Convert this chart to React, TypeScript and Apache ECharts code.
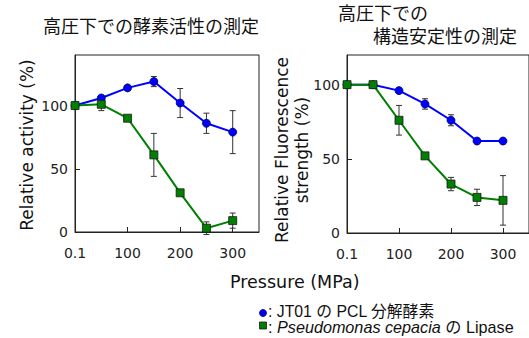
import React, { useEffect, useRef } from "react";
import * as echarts from "echarts";

const pressures = [0.1, 50, 100, 150, 200, 250, 300];
const xTickLabels: Record<number, string> = { 0: "0.1", 100: "100", 200: "200", 300: "300" };

const activityJT01 = [100, 106, 114, 119, 102, 86, 79];
const activityJT01Err = [0, 2, 2, 4, 11.5, 8, 17];
const activityLipase = [100, 101, 90, 61, 31, 3, 9];
const activityLipaseErr = [0, 5, 1.5, 17, 1, 5, 6];

const fluorJT01 = [100, 100, 96, 87, 76, 62, 62];
const fluorJT01Err = [0, 1.5, 1.5, 3.5, 3.7, 1, 1];
const fluorLipase = [100, 100, 76, 52, 33, 24, 22];
const fluorLipaseErr = [0, 1.5, 10, 1.5, 4.5, 5.5, 16.7];

const BLUE = "#0000ff";
const GREEN = "#008000";
const AX = "#222";
const NUM_FONT = "'DejaVu Sans', Verdana, sans-serif";
const JP_FONT = "'Noto Sans CJK JP', sans-serif";
const LEG_FONT = "'Liberation Sans', Arial, 'Noto Sans CJK JP', sans-serif";

function pts(vals: number[]) {
  return pressures.map((p, i) => [p, vals[i]]);
}
function errPts(vals: number[], errs: number[]) {
  return pressures.map((p, i) => [p, vals[i], errs[i]]);
}

const errorRender = (params: any, api: any) => {
  const x = api.value(0);
  const y = api.value(1);
  const e = api.value(2);
  if (!e) return null;
  const top = api.coord([x, y + e]);
  const bot = api.coord([x, y - e]);
  const w = 3;
  const style = { stroke: "#333", lineWidth: 1 };
  return {
    type: "group",
    children: [
      { type: "line", shape: { x1: top[0], y1: top[1], x2: bot[0], y2: bot[1] }, style },
      { type: "line", shape: { x1: top[0] - w, y1: top[1], x2: top[0] + w, y2: top[1] }, style },
      { type: "line", shape: { x1: bot[0] - w, y1: bot[1], x2: bot[0] + w, y2: bot[1] }, style },
    ],
  };
};

function xAxis(gridIndex: number) {
  return {
    type: "value",
    gridIndex,
    min: 0,
    max: 350,
    interval: 100,
    axisLine: { show: true, lineStyle: { color: AX, width: 1 } },
    axisTick: { show: true, inside: true, length: 5, lineStyle: { color: AX } },
    splitLine: { show: false },
    axisLabel: {
      margin: 14,
      fontSize: 14,
      color: AX,
      fontFamily: NUM_FONT,
      showMaxLabel: false,
      formatter: (v: number) => xTickLabels[v] ?? "",
    },
  };
}

function yAxis(gridIndex: number, max: number) {
  return {
    type: "value",
    gridIndex,
    min: 0,
    max,
    interval: 50,
    axisLine: { show: true, lineStyle: { color: AX, width: 1 } },
    axisTick: { show: true, inside: true, length: 5, lineStyle: { color: AX } },
    splitLine: { show: false },
    axisLabel: {
      margin: 7,
      fontSize: 14,
      color: AX,
      fontFamily: NUM_FONT,
      showMaxLabel: false,
    },
  };
}

function lineSeries(idx: number, data: number[], color: string, symbol: string, border: string) {
  return {
    type: "line",
    xAxisIndex: idx,
    yAxisIndex: idx,
    data: pts(data),
    symbol,
    symbolSize: 8,
    showAllSymbol: true,
    lineStyle: { color, width: 2 },
    itemStyle: { color, borderColor: border, borderWidth: 0.8, opacity: 1 },
    z: 3,
  };
}

function errSeries(idx: number, data: number[], errs: number[]) {
  return {
    type: "custom",
    xAxisIndex: idx,
    yAxisIndex: idx,
    data: errPts(data, errs),
    encode: { x: 0, y: 1 },
    renderItem: errorRender,
    z: 2,
  };
}

export default function App() {
  const ref = useRef<HTMLDivElement>(null);
  useEffect(() => {
    if (!ref.current) return;
    const chart = echarts.init(ref.current, null, { renderer: "svg" });
    chart.setOption({
      animation: false,
      backgroundColor: "#ffffff",
      grid: [
        { left: 75, top: 55, width: 184, height: 177, show: true, borderColor: AX, borderWidth: 1 },
        { left: 347, top: 55, width: 185, height: 178, show: true, borderColor: AX, borderWidth: 1 },
      ],
      xAxis: [xAxis(0), xAxis(1)],
      yAxis: [yAxis(0, 140), yAxis(1, 120)],
      series: [
        errSeries(0, activityJT01, activityJT01Err),
        errSeries(0, activityLipase, activityLipaseErr),
        lineSeries(0, activityJT01, BLUE, "circle", "#00006a"),
        lineSeries(0, activityLipase, GREEN, "rect", "#1a1a1a"),
        errSeries(1, fluorJT01, fluorJT01Err),
        errSeries(1, fluorLipase, fluorLipaseErr),
        lineSeries(1, fluorJT01, BLUE, "circle", "#00006a"),
        lineSeries(1, fluorLipase, GREEN, "rect", "#1a1a1a"),
      ],
      graphic: [
        {
          type: "text",
          x: 151,
          y: 25,
          style: {
            text: "高圧下での酵素活性の測定",
            fontSize: 18,
            fontFamily: JP_FONT,
            fill: "#111",
            align: "center",
            verticalAlign: "middle",
          },
        },
        {
          type: "text",
          x: 338,
          y: 12,
          style: {
            text: "高圧下での",
            fontSize: 18,
            lineHeight: 21,
            fontFamily: JP_FONT,
            fill: "#111",
            align: "left",
            verticalAlign: "middle",
          },
        },
        {
          type: "text",
          x: 373,
          y: 35,
          style: {
            text: "構造安定性の測定",
            fontSize: 18,
            lineHeight: 21,
            fontFamily: JP_FONT,
            fill: "#111",
            align: "left",
            verticalAlign: "middle",
          },
        },
        {
          type: "text",
          x: 27,
          y: 145,
          rotation: Math.PI / 2,
          style: {
            text: "Relative activity (%)",
            fontSize: 17,
            fontFamily: NUM_FONT,
            fill: "#111",
            align: "center",
            verticalAlign: "middle",
          },
        },
        {
          type: "text",
          x: 292,
          y: 150,
          rotation: Math.PI / 2,
          style: {
            text: "Relative Fluorescence\nstrength (%)",
            fontSize: 17,
            lineHeight: 20,
            fontFamily: NUM_FONT,
            fill: "#111",
            align: "center",
            verticalAlign: "middle",
          },
        },
        {
          type: "text",
          x: 230,
          y: 282,
          style: {
            text: "Pressure (MPa)",
            fontSize: 17.5,
            fontFamily: NUM_FONT,
            fill: "#111",
            align: "left",
            verticalAlign: "middle",
          },
        },
        {
          type: "circle",
          shape: { cx: 263, cy: 313, r: 3.5 },
          style: { fill: BLUE, stroke: "#00006a", lineWidth: 0.8 },
        },
        {
          type: "rect",
          shape: { x: 259.5, y: 322, width: 7, height: 7 },
          style: { fill: GREEN, stroke: "#1a1a1a", lineWidth: 0.8 },
        },
        {
          type: "text",
          x: 268,
          y: 311,
          style: {
            text: ": JT01 の PCL 分解酵素",
            fontSize: 15.8,
            fontFamily: LEG_FONT,
            fill: "#111",
            align: "left",
            verticalAlign: "middle",
          },
        },
        {
          type: "text",
          x: 268,
          y: 327,
          style: {
            text: ": {i|Pseudomonas cepacia} の Lipase",
            fontSize: 16.2,
            fontFamily: LEG_FONT,
            fill: "#111",
            align: "left",
            verticalAlign: "middle",
            rich: {
              i: { fontStyle: "italic", fontSize: 16.2, fontFamily: LEG_FONT, fill: "#111" },
            },
          },
        },
      ],
    });
    return () => chart.dispose();
  }, []);
  return (
    <div
      ref={ref}
      style={{ position: "fixed", left: 0, top: 0, width: 529, height: 338, background: "#fff" }}
    />
  );
}
